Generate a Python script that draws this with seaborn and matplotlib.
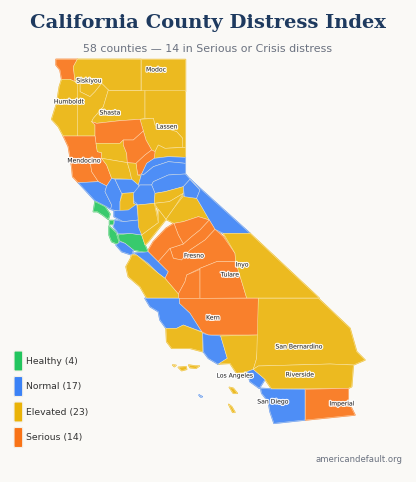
import numpy as np
import pandas as pd
import seaborn as sns
import matplotlib.pyplot as plt
from matplotlib.patches import FancyBboxPatch
import matplotlib.patheffects as pe

BG = '#faf9f6'

NORTH = {
    'Del Norte': [(48,28),(112,28),(100,50),(105,95),(90,88),(65,88),(60,60),(48,45)],
    'Siskiyou': [(112,28),(303,28),(303,122),(210,122),(205,120),(185,100),(165,125),(150,140),(120,125),(120,100),(105,95),(100,50)],
    'Modoc': [(303,28),(436,28),(436,122),(303,122)],
    'Humboldt': [(65,88),(90,88),(105,95),(112,100),(112,258),(70,258),(55,230),(35,208),(50,160),(58,110)],
    'Trinity': [(112,100),(120,100),(120,125),(150,140),(165,125),(185,100),(205,120),(190,170),(160,205),(155,215),(165,225),(165,258),(112,258)],
    'Shasta': [(205,120),(210,122),(315,122),(315,205),(300,208),(240,212),(170,220),(155,215),(160,205),(190,170)],
    'Lassen': [(315,122),(436,122),(436,292),(428,292),(428,265),(410,245),(345,225),(340,205),(315,205)],
    'Plumas': [(300,208),(340,205),(345,225),(410,245),(428,265),(428,292),(375,295),(355,285),(345,305),(335,300),(318,270),(310,243)],
    'Sierra': [(345,305),(355,285),(375,295),(436,292),(436,322),(385,320),(343,325)],
    'Tehama': [(155,215),(170,220),(240,212),(300,208),(310,243),(280,270),(250,270),(240,280),(168,280),(165,258),(165,225)],
    'Mendocino': [(70,258),(165,258),(168,280),(172,305),(185,308),(185,325),(150,330),(155,365),(175,395),(115,398),(98,380),(95,350),(85,290)],
    'Lake': [(150,330),(185,325),(200,345),(215,385),(200,408),(175,395),(155,365)],
    'Glenn': [(168,280),(240,280),(250,270),(250,285),(260,310),(262,338),(185,325),(185,308),(172,305)],
    'Colusa': [(185,325),(262,338),(270,365),(275,388),(215,385),(200,345)],
    'Butte': [(250,270),(280,270),(310,243),(318,270),(335,300),(315,315),(288,340),(262,338),(260,310),(250,285)],
    'Yuba': [(288,340),(315,315),(335,300),(345,305),(343,325),(320,340),(305,372),(293,375)],
    'Sutter': [(262,338),(288,340),(293,375),(303,378),(295,405),(275,388),(270,365)],
    'Nevada': [(320,340),(343,325),(385,320),(436,322),(436,340),(385,335),(340,350),(310,375),(305,372)],
    'Placer': [(305,372),(310,375),(340,350),(385,335),(436,340),(436,372),(385,375),(340,395),(335,405),(295,405),(303,378)],
    'El Dorado': [(340,395),(385,375),(436,372),(450,388),(430,410),(375,425),(345,430),(335,405)],
    'Sonoma': [(115,398),(175,395),(200,408),(195,425),(215,465),(212,478),(200,470),(165,452),(140,425)],
    'Napa': [(215,385),(225,388),(245,430),(240,455),(240,485),(212,478),(215,465),(195,425),(200,408)],
    'Yolo': [(225,388),(275,388),(295,405),(300,440),(292,465),(280,460),(282,428),(248,430),(245,430)],
    'Solano': [(248,430),(282,428),(280,460),(292,465),(270,485),(240,485),(240,455)],
}
CENTRAL = {
    'Marin': [(15,95),(45,110),(60,132),(55,148),(38,135),(22,125),(10,125)],
    'San Francisco': [(57,150),(68,150),(68,163),(58,163)],
    'San Mateo': [(57,168),(78,188),(85,210),(88,225),(65,215),(57,195)],
    'Santa Clara': [(85,195),(120,190),(155,195),(165,225),(175,248),(155,245),(130,240),(105,220),(88,212)],
    'Santa Cruz': [(78,225),(90,215),(105,220),(130,240),(125,255),(95,245)],
    'San Benito': [(130,250),(175,245),(205,275),(235,305),(225,325),(205,310),(175,280),(140,255)],
    'Contra Costa': [(72,122),(115,120),(140,102),(143,130),(145,150),(100,155),(72,140)],
    'Alameda': [(75,150),(100,155),(145,150),(150,170),(155,195),(120,190),(85,190),(70,170)],
    'Sacramento': [(150,45),(185,45),(195,70),(193,100),(143,105),(140,100),(132,95),(130,70)],
    'San Joaquin': [(143,105),(193,100),(205,158),(155,195),(145,170)],
    'Amador': [(195,70),(225,65),(280,50),(280,70),(238,95),(193,100)],
    'Calaveras': [(193,100),(238,95),(280,70),(255,110),(228,148),(205,118)],
    'Stanislaus': [(205,118),(228,148),(175,215),(165,225),(155,195),(205,158)],
    'Tuolumne': [(228,148),(255,110),(280,78),(320,85),(335,110),(358,150),(325,140),(280,155),(252,160)],
    'Alpine': [(300,28),(330,60),(320,85),(283,80),(280,50)],
    'Mono': [(300,28),(480,190),(400,190),(375,178),(358,150),(335,110),(320,85),(330,60)],
    'Mariposa': [(252,160),(280,155),(325,140),(358,150),(330,180),(305,200),(280,222),(265,195)],
    'Madera': [(280,222),(305,200),(330,180),(358,150),(375,178),(345,210),(300,240),(275,270),(250,265),(240,235)],
    'Merced': [(175,240),(190,215),(228,175),(252,160),(265,195),(280,222),(240,235),(205,275),(175,245)],
    'Fresno': [(205,275),(240,235),(250,265),(275,270),(300,240),(345,210),(375,178),(400,200),(435,250),(437,275),(380,275),(330,295),(290,315),(285,335),(265,372),(225,325),(235,305)],
    'Kings': [(290,315),(330,298),(330,385),(265,385),(265,372),(285,335)],
    'Tulare': [(330,295),(380,275),(437,275),(470,384),(330,385)],
    'Inyo': [(400,190),(480,190),(687,384),(470,384),(437,275),(435,250)],
    'Monterey': [(125,255),(140,255),(175,285),(205,310),(225,325),(265,372),(265,384),(170,384),(150,350),(115,320),(108,290),(122,265)],
}
SOUTH = {
    'Kern': [(118,55),(355,55),(355,165),(205,165),(185,155),(150,100),(118,70)],
    'San Luis Obispo': [(15,55),(118,55),(118,70),(150,100),(185,155),(130,135),(110,145),(78,145),(60,120),(55,95),(30,80)],
    'Santa Barbara': [(78,145),(110,145),(130,135),(187,157),(188,215),(150,205),(95,205),(80,185)],
    'Ventura': [(188,160),(205,165),(242,168),(262,235),(235,253),(205,235),(190,215)],
    'Los Angeles': [(242,168),(355,165),(350,235),(340,268),(320,275),(290,280),(270,250),(235,252),(262,235)],
    'Orange': [(322,275),(340,268),(375,298),(358,325),(330,305)],
    'San Bernardino': [(355,55),(535,55),(630,145),(650,215),(675,240),(640,255),(570,252),(355,258),(340,268),(350,235)],
    'Riverside': [(355,258),(570,252),(640,255),(635,320),(625,325),(395,327),(375,298),(340,268)],
    'San Diego': [(362,325),(395,327),(495,328),(495,420),(402,430),(390,395),(385,365),(365,340)],
    'Imperial': [(497,328),(625,325),(625,365),(645,405),(497,420)],
    'Island 1': [(98,255),(108,256),(103,260)],
    'Island 2': [(115,262),(138,260),(140,268),(125,272)],
    'Island 3': [(146,255),(165,258),(178,258),(168,265),(150,263)],
    'Island 4': [(268,322),(280,325),(292,340),(280,340)],
    'Island 5': [(266,373),(275,380),(285,397),(278,397)],
    'Island 6': [(177,345),(187,350),(182,351)],
}
ORIGINS = [(NORTH, 40, 50), (CENTRAL, 90, 170), (SOUTH, 140, 280)]

HEALTHY = ['Marin', 'San Francisco', 'San Mateo', 'Santa Clara']
NORMAL = ['Nevada', 'Placer', 'El Dorado', 'Sacramento', 'Yolo', 'Sonoma', 'Napa', 'Contra Costa',
          'Alameda', 'Santa Cruz', 'San Benito', 'Mono', 'Alpine', 'San Luis Obispo', 'Ventura',
          'Orange', 'San Diego']
ELEVATED = ['Siskiyou', 'Modoc', 'Humboldt', 'Trinity', 'Shasta', 'Lassen', 'Plumas', 'Sierra',
            'Glenn', 'Colusa', 'Sutter', 'Solano', 'San Joaquin', 'Amador', 'Calaveras', 'Stanislaus',
            'Tuolumne', 'Inyo', 'Monterey', 'Santa Barbara', 'Los Angeles', 'San Bernardino', 'Riverside']
SERIOUS = ['Del Norte', 'Tehama', 'Mendocino', 'Lake', 'Butte', 'Yuba', 'Mariposa', 'Madera',
           'Merced', 'Fresno', 'Kings', 'Tulare', 'Kern', 'Imperial']
ISLANDS = {'Island 1': 'Elevated', 'Island 2': 'Elevated', 'Island 3': 'Elevated',
           'Island 4': 'Elevated', 'Island 5': 'Elevated', 'Island 6': 'Normal'}

STATUS_NAMES = ['Healthy', 'Normal', 'Elevated', 'Serious']
STATUS_MEMBERS = [HEALTHY, NORMAL, ELEVATED, SERIOUS]
STATUS_COLORS = ['#22c55e', '#3b82f6', '#eab308', '#f97316']

LABEL_NAMES = ['Siskiyou', 'Modoc', 'Humboldt', 'Shasta', 'Lassen', 'Mendocino', 'Fresno', 'Inyo',
               'Tulare', 'Kern', 'San Bernardino', 'Riverside', 'Los Angeles', 'San Diego', 'Imperial']
LABEL_X = [89, 156, 69, 110, 167, 84, 194, 242, 230, 213, 299, 300, 235, 273, 342]
LABEL_Y = [81, 70, 102, 113, 127, 161, 256, 265, 275, 318, 347, 375, 376, 402, 404]

sns.set_theme(style='white')
plt.rcParams['font.family'] = 'DejaVu Sans'
palette = dict(zip(STATUS_NAMES, sns.color_palette(STATUS_COLORS)))

status_of = dict(ISLANDS)
for status, members in zip(STATUS_NAMES, STATUS_MEMBERS):
    for name in members:
        status_of[name] = status

rows = []
for shapes, x0, y0 in ORIGINS:
    for name, pts in shapes.items():
        for x, y in pts:
            rows.append((name, x0 + x / 3, y0 + y / 3))
df = pd.DataFrame(rows, columns=['county', 'x', 'y'])

fig, ax = plt.subplots(figsize=(4.16, 4.82), dpi=100)
fig.patch.set_facecolor(BG)
ax.set_position([0, 0, 1, 1])
ax.set_xlim(0, 416)
ax.set_ylim(482, 0)
ax.axis('off')

# the map fill sits at 90% over the page colour, the legend does not
bg_rgb = np.array(plt.matplotlib.colors.to_rgb(BG))
fills = {}
for county, g in df.groupby('county', sort=False):
    fills[county] = 0.9 * np.array(palette[status_of[county]]) + 0.1 * bg_rgb
    # first pass: own colour, wider edge, closes small gaps between hand-read outlines
    ax.fill(g['x'], g['y'], color=fills[county], ec=fills[county], lw=1.0, joinstyle='round', zorder=2)
for county, g in df.groupby('county', sort=False):
    ax.fill(g['x'], g['y'], fc=fills[county], ec=(1, 0.97, 0.88, 0.65), lw=0.4, joinstyle='round', zorder=3)

halo = [pe.withStroke(linewidth=1.8, foreground='white', alpha=0.9)]
for name, x, y in zip(LABEL_NAMES, LABEL_X, LABEL_Y):
    ax.text(x, y, name, fontsize=4.4, color='#1f1f1f', ha='center', va='center', path_effects=halo, zorder=5)

ax.text(208, 23, 'California County Distress Index', family='DejaVu Serif', weight='bold',
        fontsize=14.0, color='#1e3a5f', ha='center', va='center')
ax.text(208, 49, '58 counties — 14 in Serious or Crisis distress', fontsize=7.95,
        color='#6b7280', ha='center', va='center')

leg_y = [361, 386.5, 412, 437.5]
for name, members, y in zip(STATUS_NAMES, STATUS_MEMBERS, leg_y):
    ax.add_patch(FancyBboxPatch((14, y - 10), 8.7, 20, boxstyle='round,pad=0,rounding_size=1.2',
                                fc=palette[name], ec='#f3efe6', lw=0.8, zorder=3))
    ax.text(26, y, f'{name} ({len(members)})', fontsize=6.7, color='#333333', ha='left', va='center')

ax.text(402, 460, 'americandefault.org', fontsize=6.1, color='#6b7280', ha='right', va='center')

fig.savefig('out.png', dpi=100, facecolor=BG)
